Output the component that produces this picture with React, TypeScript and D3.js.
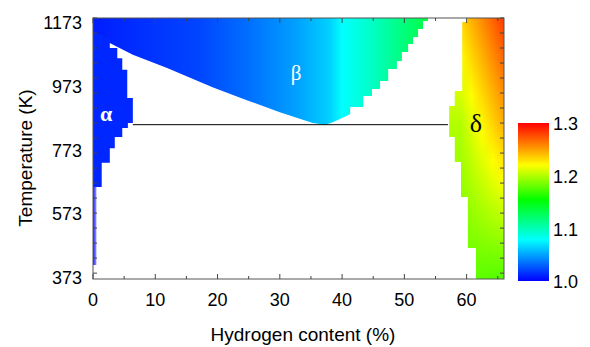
import React from 'react';
import * as d3 from 'd3';

// axis ticks / labels
const xTicks = [0, 10, 20, 30, 40, 50, 60];
const xMinorTicks = [5, 15, 25, 35, 45, 55, 65];
const yLabels = [373, 573, 773, 973, 1173];
const yTickMarks = [1173, 1127, 1081, 1035, 989, 943, 897, 851, 805, 759, 713, 667, 621, 575, 529, 483, 437, 391];
const cbLabels = [1.0, 1.1, 1.2, 1.3];

// colour map of the bar
const cbStopV = [1.0, 1.078, 1.154, 1.22, 1.3];
const cbStopC = ['#0000ff', '#00ffff', '#00ff00', '#ffff00', '#ff0000'];

// alpha phase: staircase right edge (T bounds, H content per band)
const alphaT = [1124, 1112, 1081, 1050, 1014, 928, 851, 836, 808, 774, 729, 655];
const alphaH = [1.6, 2.7, 3.9, 4.7, 5.5, 6.4, 5.6, 4.7, 3.5, 2.7, 1.4];
const alphaTailT = [655, 416];
const alphaTailH = 0.55;
const alphaValue = 1.012;

// beta phase: staircase right edge + smooth lower-left edge
const betaRightT = [1173, 1164, 1139, 1115, 1093, 1069, 1041, 1017, 980, 955, 934, 900, 879];
const betaRightH = [53.8, 53.0, 52.2, 51.4, 50.6, 49.6, 48.8, 47.4, 46.1, 44.8, 43.4, 41.3];
const betaVertexH = [40.4, 39.4, 38.4, 37.3];
const betaVertexT = [870, 861, 853, 846];
const betaLowerH = [35.3, 30.0, 24.7, 19.3, 17.2, 11.9, 6.4, 1.1, 0];
const betaLowerT = [851, 884, 921, 960, 977, 1020, 1060, 1112, 1120];
const betaColorH = [0, 17, 25, 32.6, 38, 40, 44.5, 49.3, 54];
const betaColorV = [1.009, 1.021, 1.034, 1.049, 1.064, 1.078, 1.094, 1.115, 1.135];

// delta phase: staircase left edge
const deltaT = [1173, 1161, 949, 903, 808, 732, 624, 468, 373];
const deltaH = [60.1, 59.3, 58.1, 57.2, 58.1, 59.1, 60.2, 61.5];
const deltaAnchorT = [373, 846, 1173];
const deltaLeftV = [1.18, 1.2, 1.232];
const deltaRightV = [1.175, 1.245, 1.282];
const deltaEdgeH = [59, 66];

// eutectoid line
const eutT = 846;
const eutH = [6.4, 57.0];

const W = 590;
const H = 347;
const m = { left: 93, right: 504, top: 18, bottom: 279 };

const App: React.FC = () => {
  const x = d3.scaleLinear().domain([0, 66]).range([m.left, m.right]);
  const y = d3.scaleLinear().domain([373, 1173]).range([m.bottom, m.top]);
  const yLab = d3.scaleLinear().domain([373, 1173]).range([278, 22.5]);
  const cb = d3.scaleLinear().domain([1.0, 1.3]).range([281, 123]);
  const color = d3.scaleLinear<string>().domain(cbStopV).range(cbStopC).interpolate(d3.interpolateRgb);

  const line = d3
    .line<[number, number]>()
    .x((d) => x(d[0]))
    .y((d) => y(d[1]));

  // beta outline
  const betaPts: [number, number][] = [[0, 1173]];
  betaRightH.forEach((h, i) => {
    betaPts.push([h, betaRightT[i]]);
    betaPts.push([h, betaRightT[i + 1]]);
  });
  betaVertexH.forEach((h, i) => betaPts.push([h, betaVertexT[i]]));
  betaLowerH.forEach((h, i) => betaPts.push([h, betaLowerT[i]]));
  const betaPath = line(betaPts) + 'Z';

  // alpha outline
  const alphaPts: [number, number][] = [[0, alphaT[0]]];
  alphaH.forEach((h, i) => {
    alphaPts.push([h, alphaT[i]]);
    alphaPts.push([h, alphaT[i + 1]]);
  });
  alphaPts.push([0, alphaT[alphaT.length - 1]]);
  const alphaPath = line(alphaPts) + 'Z';

  // delta outline
  const deltaPts: [number, number][] = [[66, 1173]];
  deltaH.forEach((h, i) => {
    deltaPts.push([h, deltaT[i]]);
    deltaPts.push([h, deltaT[i + 1]]);
  });
  deltaPts.push([66, 373]);
  const deltaPath = line(deltaPts) + 'Z';

  const vLeft = d3.scaleLinear().domain(deltaAnchorT).range(deltaLeftV);
  const vRight = d3.scaleLinear().domain(deltaAnchorT).range(deltaRightV);
  const strips = d3.range(m.top, m.bottom, 3);

  const tickFont = { fontFamily: '"Liberation Sans", Arial, sans-serif', fontSize: 18, fill: '#000' };
  const titleFont = { ...tickFont, fontSize: 19 };
  const greek = { fontFamily: '"Liberation Serif", "Times New Roman", serif' };

  return (
    <svg width={W} height={H} style={{ position: 'absolute', left: 0, top: 0, background: '#fff' }}>
      <defs>
        <linearGradient id="betaGrad" gradientUnits="userSpaceOnUse" x1={x(0)} x2={x(66)} y1={0} y2={0}>
          {betaColorH.map((h, i) => (
            <stop key={i} offset={h / 66} stopColor={color(betaColorV[i])} />
          ))}
        </linearGradient>
        <linearGradient id="cbGrad" x1="0" x2="0" y1="1" y2="0">
          {cbStopV.map((v, i) => (
            <stop key={i} offset={(v - 1.0) / 0.3} stopColor={cbStopC[i]} />
          ))}
        </linearGradient>
        <linearGradient id="tailGrad" x1="0" x2="1" y1="0" y2="0">
          <stop offset={0} stopColor={color(1.0)} stopOpacity={0.9} />
          <stop offset={1} stopColor={color(1.0)} stopOpacity={0.4} />
        </linearGradient>
        {strips.map((py, i) => {
          const t = y.invert(py + 1.5);
          const vl = vLeft(t);
          const vr = vRight(t);
          return (
            <linearGradient
              key={i}
              id={`dg${i}`}
              gradientUnits="userSpaceOnUse"
              x1={x(deltaEdgeH[0])}
              x2={x(deltaEdgeH[1])}
              y1={0}
              y2={0}
            >
              {[0, 0.25, 0.5, 0.75, 1].map((f) => (
                <stop key={f} offset={f} stopColor={color(vl + (vr - vl) * f)} />
              ))}
            </linearGradient>
          );
        })}
        <clipPath id="deltaClip">
          <path d={deltaPath} />
        </clipPath>
        <clipPath id="plotClip">
          <rect x={m.left} y={m.top} width={m.right - m.left} height={m.bottom - m.top} />
        </clipPath>
      </defs>

      <g clipPath="url(#plotClip)">
        <path d={betaPath} fill="url(#betaGrad)" />
        <path d={alphaPath} fill={color(alphaValue)} />
        <rect
          x={x(0)}
          y={y(alphaTailT[0])}
          width={x(alphaTailH) - x(0)}
          height={y(alphaTailT[1]) - y(alphaTailT[0])}
          fill="url(#tailGrad)"
        />
        <g clipPath="url(#deltaClip)" shapeRendering="crispEdges">
          {strips.map((py, i) => (
            <rect key={i} x={x(55)} y={py} width={x(66) - x(55) + 1} height={3.5} fill={`url(#dg${i})`} />
          ))}
        </g>
      </g>

      <line x1={x(eutH[0])} x2={x(eutH[1])} y1={y(eutT)} y2={y(eutT)} stroke="#000" strokeWidth={1} />

      <text x={x(2.1)} y={y(851) - 2} fill="#fff" fontSize={22} fontWeight="bold" textAnchor="middle" style={greek}>
        α
      </text>
      <text x={x(32.6)} y={y(1000) + 6} fill="#fff" fontSize={21} textAnchor="middle" style={greek}>
        β
      </text>
      <text x={x(61.5)} y={y(846) + 7} fill="#000" fontSize={26} textAnchor="middle" style={greek}>
        δ
      </text>

      <rect
        x={m.left}
        y={m.top}
        width={m.right - m.left}
        height={m.bottom - m.top}
        fill="none"
        stroke="#555"
        strokeWidth={1}
      />

      {xTicks.map((t) => (
        <g key={`xt${t}`} stroke="#444">
          <line x1={x(t)} x2={x(t)} y1={m.bottom} y2={m.bottom - 5} />
          <line x1={x(t)} x2={x(t)} y1={m.top} y2={m.top + 5} />
        </g>
      ))}
      {xMinorTicks.map((t) => (
        <g key={`xm${t}`} stroke="#444">
          <line x1={x(t)} x2={x(t)} y1={m.bottom} y2={m.bottom - 3} />
          <line x1={x(t)} x2={x(t)} y1={m.top} y2={m.top + 3} />
        </g>
      ))}
      {xTicks.map((t) => (
        <text key={`xl${t}`} x={x(t)} y={300} dy="0.35em" textAnchor="middle" style={tickFont}>
          {t}
        </text>
      ))}

      {yTickMarks.map((t) => (
        <g key={`yt${t}`} stroke="#444">
          <line x1={m.left} x2={m.left + 4} y1={y(t)} y2={y(t)} />
          <line x1={m.right} x2={m.right - 4} y1={y(t)} y2={y(t)} />
        </g>
      ))}
      {yLabels.map((t) => (
        <text key={`yl${t}`} x={82} y={yLab(t)} dy="0.35em" textAnchor="end" style={tickFont}>
          {t}
        </text>
      ))}

      <text x={303} y={341} textAnchor="middle" style={titleFont}>
        Hydrogen content (%)
      </text>
      <text transform={`translate(25, 158) rotate(-90)`} dy="0.35em" textAnchor="middle" style={titleFont}>
        Temperature (K)
      </text>

      <rect x={518} y={cb(1.3)} width={31} height={cb(1.0) - cb(1.3)} fill="url(#cbGrad)" />
      {cbLabels.map((v) => (
        <text key={`cb${v}`} x={553} y={cb(v) + 1} dy="0.35em" style={tickFont}>
          {v.toFixed(1)}
        </text>
      ))}
    </svg>
  );
};

export default App;
